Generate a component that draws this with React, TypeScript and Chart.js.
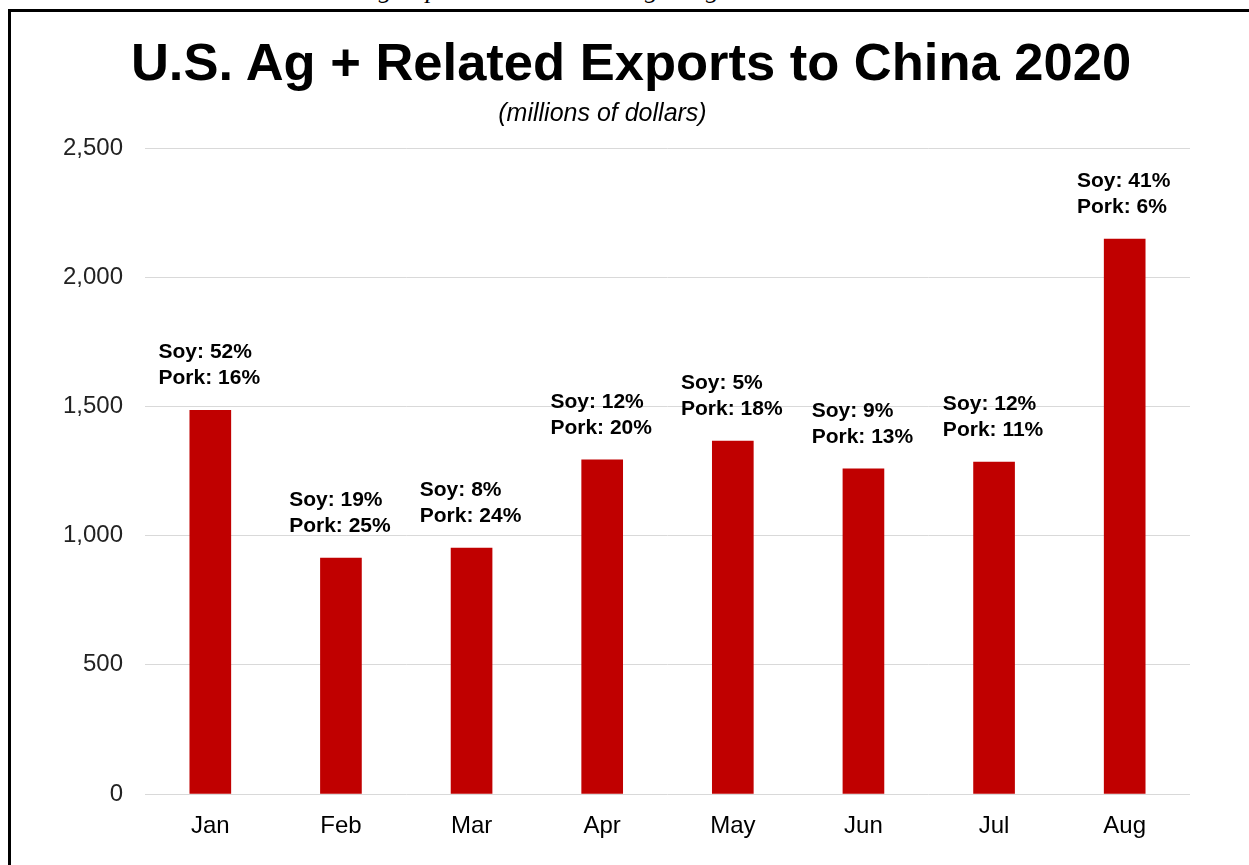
import React, { useEffect, useRef } from "react";
import { Chart, registerables } from "chart.js";

Chart.register(...registerables);

const months = ["Jan", "Feb", "Mar", "Apr", "May", "Jun", "Jul", "Aug"];
const exportValues = [1485, 913, 952, 1293, 1366, 1258, 1285, 2148];
const soyShares = [52, 19, 8, 12, 5, 9, 12, 41];
const porkShares = [16, 25, 24, 20, 18, 13, 11, 6];
const yTicks = [0, 500, 1000, 1500, 2000, 2500];

const FONT = "Arial, 'Liberation Sans', sans-serif";

const labelPlugin = {
  id: "shareLabels",
  afterDatasetsDraw(chart: any) {
    const ctx = chart.ctx;
    const meta = chart.getDatasetMeta(0);
    ctx.save();
    ctx.font = `bold 21px ${FONT}`;
    ctx.fillStyle = "#000";
    ctx.textBaseline = "middle";
    ctx.textAlign = "left";
    meta.data.forEach((bar: any, i: number) => {
      const l1 = `Soy: ${soyShares[i]}%`;
      const l2 = `Pork: ${porkShares[i]}%`;
      const w = Math.max(ctx.measureText(l1).width, ctx.measureText(l2).width);
      const x = bar.x - w / 2 - 1;
      ctx.fillText(l1, x, bar.y - 58);
      ctx.fillText(l2, x, bar.y - 32);
    });
    ctx.restore();
  },
};

export default function App() {
  const ref = useRef<HTMLCanvasElement | null>(null);
  useEffect(() => {
    if (!ref.current) return;
    const chart = new Chart(ref.current, {
      type: "bar",
      data: {
        labels: months,
        datasets: [
          {
            data: exportValues,
            backgroundColor: "#c00000",
            barThickness: 41,
          },
        ],
      },
      options: {
        responsive: false,
        animation: false,
        devicePixelRatio: 1,
        layout: { padding: { left: 0, right: 59, top: 148, bottom: 0 } },
        plugins: {
          legend: { display: false },
          tooltip: { enabled: false },
          title: { display: false },
        },
        scales: {
          x: {
            grid: { display: false, drawTicks: false },
            border: { display: false },
            ticks: {
              color: "#000",
              font: { family: FONT, size: 24 },
              padding: 18,
            },
            afterFit: (s: any) => {
              s.height = 71;
            },
          },
          y: {
            min: 0,
            max: 2500,
            afterBuildTicks: (s: any) => {
              s.ticks = yTicks.map((v) => ({ value: v }));
            },
            grid: { color: "#d9d9d9", lineWidth: 1, drawTicks: false },
            border: { display: false },
            ticks: {
              color: "#222",
              font: { family: FONT, size: 24 },
              padding: 22,
              callback: (v: any) => Number(v).toLocaleString("en-US"),
            },
            afterFit: (s: any) => {
              s.width = 145;
            },
          },
        },
      },
      plugins: [labelPlugin],
    });
    return () => chart.destroy();
  }, []);

  return (
    <div
      style={{
        position: "absolute",
        left: 0,
        top: 0,
        width: 1249,
        height: 865,
        background: "#fff",
        overflow: "hidden",
      }}
    >
      <div
        style={{
          position: "absolute",
          left: 0,
          top: 0,
          width: 1249,
          height: 9,
          overflow: "hidden",
        }}
      >
        <div
          style={{
            position: "absolute",
            left: 0,
            width: 1120,
            top: -27,
            textAlign: "center",
            fontFamily: "'Liberation Serif', 'Times New Roman', serif",
            fontStyle: "italic",
            fontSize: 26,
            lineHeight: "34px",
            whiteSpace: "nowrap",
          }}
        >
          U.S. Ag Exports to China Through August 2020
        </div>
      </div>
      <canvas
        ref={ref}
        width={1249}
        height={865}
        style={{ position: "absolute", left: 0, top: 0, width: 1249, height: 865 }}
      />
      <div
        style={{
          position: "absolute",
          left: 8,
          top: 9,
          width: 1249,
          height: 900,
          borderLeft: "3px solid #000",
          borderTop: "3px solid #000",
          pointerEvents: "none",
        }}
      />
      <div
        style={{
          position: "absolute",
          left: 0,
          width: 1262,
          top: 30,
          textAlign: "center",
          fontFamily: FONT,
          fontWeight: "bold",
          fontSize: 52.5,
          lineHeight: "64px",
          color: "#000",
          whiteSpace: "nowrap",
        }}
      >
        U.S. Ag + Related Exports to China 2020
      </div>
      <div
        style={{
          position: "absolute",
          left: 0,
          width: 1205,
          top: 97,
          textAlign: "center",
          fontFamily: FONT,
          fontStyle: "italic",
          fontSize: 25,
          lineHeight: "30px",
          color: "#000",
          whiteSpace: "nowrap",
        }}
      >
        (millions of dollars)
      </div>
    </div>
  );
}
